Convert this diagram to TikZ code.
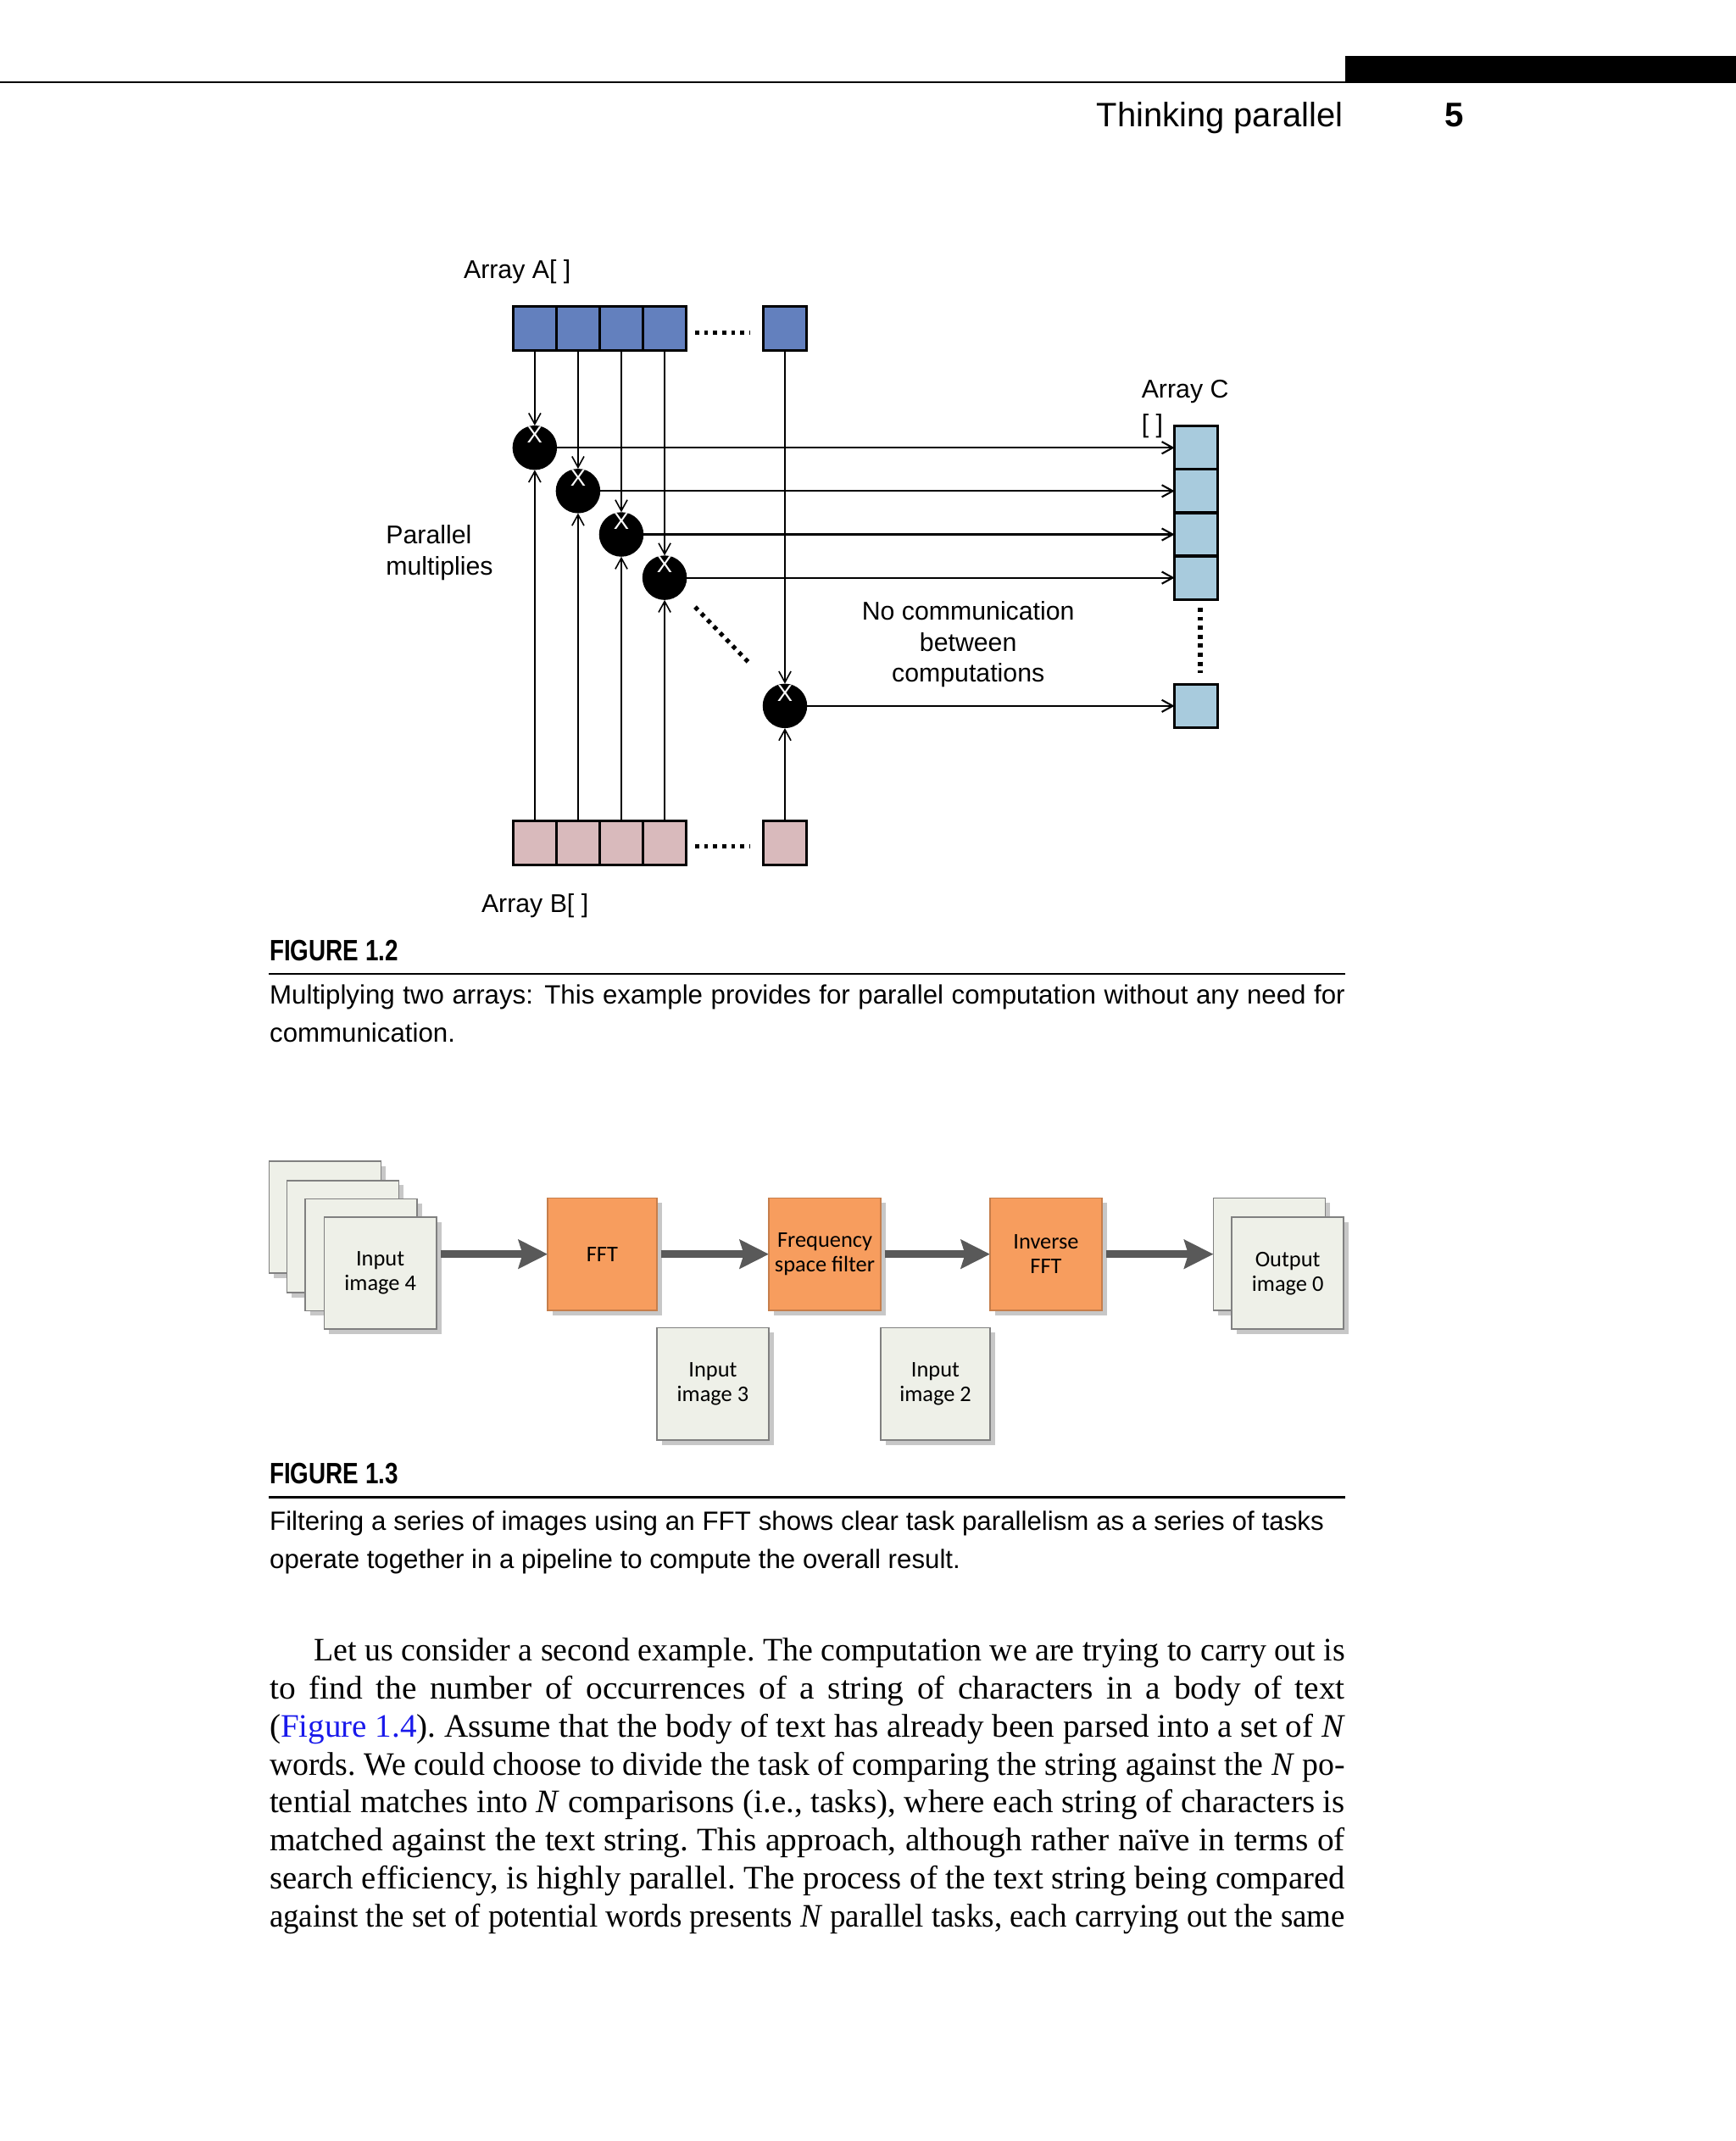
\documentclass[tikz,border=0pt]{standalone}
\usepackage{fontspec}
\usepackage{graphicx}
\usetikzlibrary{arrows.meta,shadows}
\setmainfont{Liberation Serif}
\newfontfamily\hsans{Liberation Sans}
\newfontfamily\condsans[FakeStretch=0.8]{Liberation Sans}
\newfontfamily\calib{Carlito}
\newfontfamily\bodyfont[FakeStretch=1.02]{Liberation Serif}
\definecolor{cA}{RGB}{99,128,190}
\definecolor{cB}{RGB}{217,186,188}
\definecolor{cC}{RGB}{168,203,221}
\definecolor{orng}{RGB}{247,157,94}
\definecolor{boxfill}{RGB}{238,240,232}
\definecolor{boxdraw}{RGB}{128,128,128}
\definecolor{arrgray}{RGB}{89,89,89}
\definecolor{linkblue}{RGB}{25,25,235}
\newsavebox{\fitlinebox}
\newlength{\fitlinewd}
\newcommand{\fitline}[2]{%
  \setlength{\fitlinewd}{#1}%
  \sbox{\fitlinebox}{#2}%
  \ifdim\wd\fitlinebox>\fitlinewd
    \resizebox{\fitlinewd}{\height}{\usebox{\fitlinebox}}%
  \else
    \makebox[\fitlinewd][s]{#2}%
  \fi}
\begin{document}
\begin{tikzpicture}[x=0.5pt,y=-0.5pt,
  txt/.style={inner sep=0pt,outer sep=0pt,anchor=base west},
  figlbl/.style={txt,font=\hsans\fontsize{9.4}{11}\selectfont},
  cell/.style={draw,line width=1pt,minimum width=15.85pt,minimum height=16.2pt,inner sep=0pt,outer sep=0pt},
  cellA/.style={cell,fill=cA},
  cellB/.style={cell,fill=cB},
  cellC/.style={cell,fill=cC,minimum height=15.9pt},
  mult/.style={circle,fill=black,minimum size=16.3pt,inner sep=0pt,outer sep=0pt},
  xlab/.style={text=white,font=\hsans\fontsize{8.5}{10}\selectfont,inner sep=0pt},
  vArr/.style={line width=0.5pt,-{Straight Barb[length=4pt,width=4.4pt]}},
  hArr/.style={line width=0.65pt,-{Straight Barb[length=4pt,width=4.4pt]}},
  dotl/.style={line width=1.6pt,dash pattern=on 1.5pt off 1.8pt},
  imgbox/.style={fill=boxfill,draw=boxdraw,line width=0.5pt,minimum width=41pt,minimum height=41pt,
     inner sep=0pt,outer sep=0pt,align=center,font=\calib\fontsize{8.2}{9}\selectfont,
     drop shadow={shadow xshift=1.8pt,shadow yshift=-1.8pt,fill=black!22,opacity=1}},
  taskbox/.style={imgbox,fill=orng,draw=orng!80!black},
  barrow/.style={draw=arrgray,line width=2.8pt,-{Stealth[length=10.6pt,width=10.4pt,inset=1.5pt]},shorten <=1.5pt},
  barrowsh/.style={draw=black!18,line width=2.8pt,-{Stealth[length=10.6pt,width=10.4pt,inset=1.5pt]},shorten <=1.5pt,xshift=1pt,yshift=-1.6pt},
  captxt/.style={txt,font=\hsans\fontsize{9.7}{11}\selectfont},
  fighead/.style={txt,font=\condsans\bfseries\fontsize{10.8}{12}\selectfont},
  bodytxt/.style={txt,font=\bodyfont\frenchspacing\fontsize{12}{13}\selectfont}
]
\useasboundingbox (0,0) rectangle (1271,1568);

% ---------- running head ----------
\fill (985,41) rectangle (1271,60.6);
\draw[line width=0.6pt] (0,60.3) -- (985,60.3);
\node[inner sep=0pt,anchor=base east,font=\hsans\fontsize{12.4}{14}\selectfont] (hdr) at (984,93) {Thinking parallel};
\node[txt,font=\hsans\bfseries\fontsize{12.5}{14}\selectfont] (pgno) at (1058,93) {5};

% ---------- Figure 1.2 ----------
\node[figlbl] (lA) at (339.6,203.7) {Array A[ ]};
\node[figlbl] (lC1) at (836,291.7) {Array C};
\node[figlbl] (lC2) at (836,316.6) {[ ]};
\node[figlbl] (lP1) at (282.7,398.3) {Parallel};
\node[figlbl] (lP2) at (282.7,421) {multiplies};
\node[figlbl,anchor=base] (lN1) at (709,454) {No communication};
\node[figlbl,anchor=base] (lN2) at (709,477) {between};
\node[figlbl,anchor=base] (lN3) at (709,499.5) {computations};
\node[figlbl] (lB) at (352.6,668) {Array B[ ]};

\node[cellA] (a1) at (391.6,240.7) {};
\node[cellA] (a2) at (423.3,240.7) {};
\node[cellA] (a3) at (455,240.7) {};
\node[cellA] (a4) at (486.7,240.7) {};
\node[cellA] (a5) at (574.8,240.7) {};

\node[cellB] (b1) at (391.6,617.5) {};
\node[cellB] (b2) at (423.3,617.5) {};
\node[cellB] (b3) at (455,617.5) {};
\node[cellB] (b4) at (486.7,617.5) {};
\node[cellB] (b5) at (574.8,617.5) {};

\node[cellC] (c1) at (876,327.9) {};
\node[cellC] (c2) at (876,359.6) {};
\node[cellC] (c3) at (876,391.4) {};
\node[cellC] (c4) at (876,423.1) {};
\node[cellC] (c5) at (876,517) {};

\node[mult] (m1) at (391.6,327.9) {};
\node[mult] (m2) at (423.3,359.6) {};
\node[mult] (m3) at (455,391.4) {};
\node[mult] (m4) at (486.7,423.1) {};
\node[mult] (m5) at (574.8,517) {};

\foreach \i in {1,...,5}{
  \node[xlab,yshift=4.7pt] (x\i) at (m\i.center) {X};
  \draw[vArr] (a\i.south) -- (m\i.north);
  \draw[vArr] (b\i.north) -- (m\i.south);
  \draw[hArr] (m\i.east) -- (c\i.west);
}

\draw[dotl] (509,243.7) -- (549.5,243.7);
\draw[dotl] (509,620) -- (549.5,620);
\draw[dotl] (879,445) -- (879,493);
\draw[dotl] (509,444.5) -- (550,487);

\node[fighead] (f12) at (197.5,703.5) {FIGURE 1.2};
\draw[line width=0.6pt] (197,713.2) -- (985,713.2);
\node[captxt] (cap12a) at (197.5,735) {\fitline{393.75pt}{Multiplying two arrays: This example provides for parallel computation without any need for}};
\node[captxt] (cap12b) at (197.5,763.5) {communication.};

% ---------- Figure 1.3 ----------
\node[imgbox] (s1) at (238,891.5) {};
\node[imgbox] (s2) at (251,905.5) {};
\node[imgbox] (s3) at (264.5,919) {};
\node[imgbox] (s4) at (278.5,932.5) {Input\\image 4};

\node[taskbox,minimum width=40pt] (fft) at (441,918.5) {FFT};
\node[taskbox] (fsf) at (604,918.5) {Frequency\\space filter};
\node[taskbox] (ifft) at (766,918.5) {Inverse\\FFT};

\node[imgbox] (o1) at (929.5,918.5) {};
\node[imgbox] (o2) at (943,932.5) {Output\\image 0};

\node[imgbox] (in3) at (522,1013.5) {Input\\image 3};
\node[imgbox,minimum width=40pt] (in2) at (685,1013.5) {Input\\image 2};

\draw[barrowsh] (s4.east |- fft.west) -- (fft.west);
\draw[barrowsh] (fft.east) -- (fsf.west);
\draw[barrowsh] (fsf.east) -- (ifft.west);
\draw[barrowsh] (ifft.east) -- (o1.west);
\draw[barrow] (s4.east |- fft.west) -- (fft.west);
\draw[barrow] (fft.east) -- (fsf.west);
\draw[barrow] (fsf.east) -- (ifft.west);
\draw[barrow] (ifft.east) -- (o1.west);

\node[fighead] (f13) at (197.5,1086.7) {FIGURE 1.3};
\draw[line width=0.7pt] (197,1096.6) -- (985,1096.6);
\node[captxt] (cap13a) at (197.5,1121) {\fitline{386pt}{Filtering a series of images using an FFT shows clear task parallelism as a series of tasks}};
\node[captxt] (cap13b) at (197.5,1148.4) {operate together in a pipeline to compute the overall result.};

% ---------- body text ----------
\node[bodytxt] (t1) at (230,1216.6) {\fitline{377.5pt}{Let us consider a second example. The computation we are trying to carry out is}};
\node[bodytxt] (t2) at (197.5,1244.4) {\fitline{393.75pt}{to find the number of occurrences of a string of characters in a body of text}};
\node[bodytxt] (t3) at (197.5,1272.1) {\fitline{393.75pt}{({\color{linkblue}Figure 1.4}). Assume that the body of text has already been parsed into a set of \textit{N}}};
\node[bodytxt] (t4) at (197.5,1299.9) {\fitline{393.75pt}{words. We could choose to divide the task of comparing the string against the \textit{N} po-}};
\node[bodytxt] (t5) at (197.5,1327.7) {\fitline{393.75pt}{tential matches into \textit{N} comparisons (i.e., tasks), where each string of characters is}};
\node[bodytxt] (t6) at (197.5,1355.4) {\fitline{393.75pt}{matched against the text string. This approach, although rather naïve in terms of}};
\node[bodytxt] (t7) at (197.5,1383.2) {\fitline{393.75pt}{search efficiency, is highly parallel. The process of the text string being compared}};
\node[bodytxt] (t8) at (197.5,1411) {\fitline{393.75pt}{against the set of potential words presents \textit{N} parallel tasks, each carrying out the same}};
\end{tikzpicture}
\end{document}
